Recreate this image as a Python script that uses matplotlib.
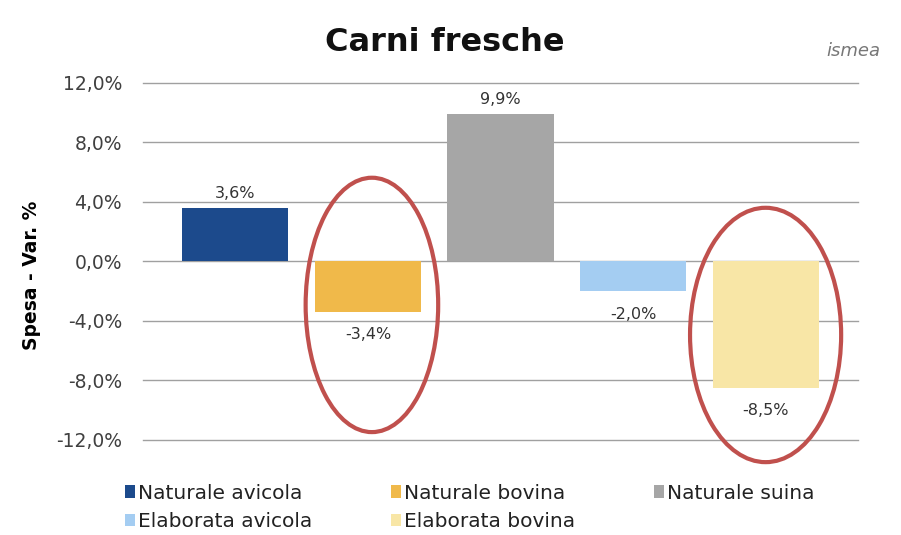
import matplotlib
matplotlib.use("Agg")
import matplotlib.pyplot as plt
from matplotlib.patches import Ellipse

plt.rcParams['font.family'] = ['DejaVu Sans']

series = ["Naturale avicola", "Naturale bovina", "Naturale suina", "Elaborata avicola", "Elaborata bovina"]
values = [3.6, -3.4, 9.9, -2.0, -8.5]
colors = ["#1C4A8C", "#F0B94A", "#A6A6A6", "#A4CDF2", "#F8E6A6"]
yticks = [-12, -8, -4, 0, 4, 8, 12]

fig = plt.figure(figsize=(9.01, 5.35), dpi=100)
ax = fig.add_axes([0.1587, 0.1776, 0.794, 0.6673])

handles = []
for i, (s, v, c) in enumerate(zip(series, values, colors)):
    b = ax.bar(i, v, width=0.8, color=c, label=s, zorder=3)
    handles.append(b)
    lbl = f"{v:.1f}%".replace(".", ",")
    if v >= 0:
        ax.annotate(lbl, (i, v), xytext=(0, 5), textcoords="offset points",
                    ha="center", va="bottom", fontsize=11.5, color="#333333")
    else:
        ax.annotate(lbl, (i, v), xytext=(0, -11), textcoords="offset points",
                    ha="center", va="top", fontsize=11.5, color="#333333")

ax.set_ylim(-12, 12)
ax.set_xlim(-0.697, 4.7)
ax.set_yticks(yticks)
ax.set_yticklabels([f"{t:.1f}%".replace(".", ",") for t in yticks], fontsize=13.5, color="#404040")
ax.set_xticks([])
ax.grid(axis="y", color="#A0A0A0", linewidth=1, zorder=0)
for gl in ax.get_ygridlines():
    gl.set_clip_on(False)
for sp in ax.spines.values():
    sp.set_visible(False)
ax.tick_params(axis="y", length=0, pad=15)
ax.set_ylabel("Spesa - Var. %", fontsize=13.5, fontweight="bold", labelpad=2)
ax.yaxis.set_label_coords(-0.143, 0.46)

# Highlight ellipses
for cx, cy, w, h in [(1.03, -2.92, 1.0, 17.1), (4.0, -4.94, 1.14, 17.1)]:
    ax.add_patch(Ellipse((cx, cy), w, h, fill=False, edgecolor="#C0504D",
                         linewidth=3, zorder=5, clip_on=False))

fig.text(0.494, 0.92, "Carni fresche", ha="center", va="center",
         fontsize=23, fontweight="bold", color="#111111")
fig.text(0.947, 0.905, "ismea", ha="center", va="center", fontsize=13,
         style="italic", color="#777777")

order = [0, 3, 1, 4, 2]
leg = fig.legend([handles[k] for k in order], [series[k] for k in order],
                 loc="center left", bbox_to_anchor=(0.128, 0.0514), ncol=3,
                 frameon=False, fontsize=14.5, handlelength=0.5, handleheight=0.6,
                 handletextpad=0.15, columnspacing=3.9, labelspacing=0.45,
                 borderpad=0.0)
for t in leg.get_texts():
    t.set_color("#222222")

fig.savefig("out.png", dpi=100)
